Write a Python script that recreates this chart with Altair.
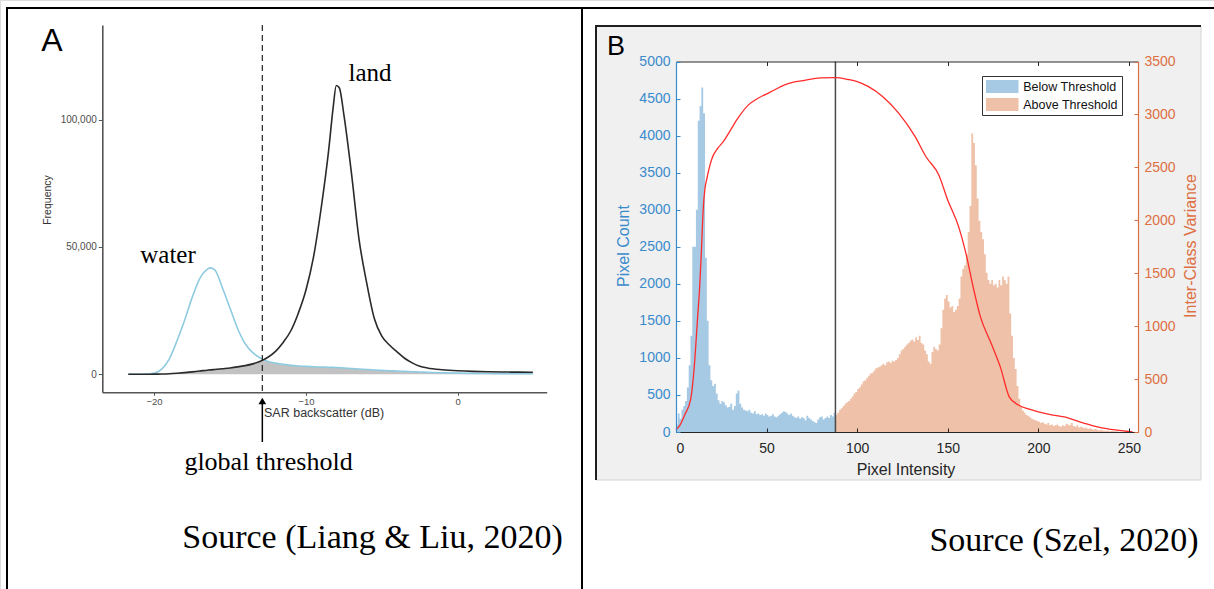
import altair as alt
import pandas as pd
import numpy as np

# ---------------- Panel A data (Liang & Liu, 2020) ----------------
sar_db = [-21.7, -21, -20.5, -20, -19.5, -19, -18.5, -18, -17.5, -17, -16.5, -16.3, -16,
          -15.5, -15, -14.5, -14, -13.5, -13, -12.5, -12, -11.5, -11, -10.5, -10, -9.5,
          -9, -8.5, -8.2, -8, -7.8, -7.5, -7, -6.5, -6, -5.5, -5, -4.5, -4, -3.5, -3,
          -2.5, -2, -1, 0, 1, 2, 3, 4, 4.95]
land_freq = [0, 0, 20, 50, 100, 200, 400, 650, 950, 1300, 1600, 1750, 1900, 2200, 2500,
             2900, 3400, 4100, 5100, 6700, 9000, 12500, 17000, 24000, 33000, 46000, 65000,
             88000, 105000, 113400, 112500, 102000, 79000, 53000, 36000, 22000, 15000,
             11500, 8800, 6300, 4500, 3200, 2500, 1800, 1400, 1150, 1000, 900, 850, 780]
water_freq = [0, 0, 100, 400, 2000, 6000, 13000, 21000, 30000, 37500, 41200, 41800, 41000,
              34000, 26000, 18000, 12000, 8500, 6400, 5000, 4400, 3900, 3500, 3250, 3100,
              2950, 2850, 2750, 2700, 2650, 2600, 2500, 2300, 2100, 1900, 1700, 1550, 1400,
              1300, 1150, 1000, 900, 800, 600, 450, 350, 300, 250, 200, 200]
global_threshold_db = -12.87
a_x_ticks = [-20, -10, 0]
a_y_ticks = [0, 50000, 100000]

# ---------------- Panel B data (Szel, 2020) ----------------
below_counts = [100, 250, 180, 300, 350, 420, 600, 900, 1300, 2500,
                2500, 3000, 4200, 4400, 4650, 4300, 2350, 1500, 900, 700,
                620, 650, 520, 430, 380, 420, 400, 360, 330, 340,
                380, 300, 350, 520, 560, 380, 330, 300, 290, 280,
                300, 260, 250, 280, 240, 250, 230, 240, 220, 250,
                230, 210, 220, 240, 210, 200, 220, 240, 260, 280,
                270, 250, 230, 250, 220, 200, 190, 210, 180, 200,
                190, 160, 220, 190, 170, 150, 130, 120, 170, 200,
                210, 170, 190, 210, 190, 230, 210, 260]
above_counts = [230, 260, 300, 320, 350, 380, 400, 420, 450, 480,
                520, 540, 580, 600, 640, 680, 700, 730, 760, 790,
                800, 830, 860, 870, 880, 900, 920, 900, 940, 950,
                930, 960, 950, 970, 1000, 1050, 1100, 1120, 1150, 1180,
                1200, 1230, 1250, 1220, 1280, 1240, 1300, 1200, 1180, 1100,
                1050, 950, 920, 1080, 1150, 1120, 1100, 1180, 1400, 1650,
                1800, 1850, 1760, 1680, 1700, 1620, 1650, 1700, 1800, 2100,
                2200, 2250, 2400, 2700, 3050, 4030, 3900, 3600, 3150, 2850,
                2700, 2600, 2400, 2150, 2050, 2000, 2050, 1980, 2000, 1950,
                2050, 1980, 2100, 2050, 2000, 2100, 1600, 1300, 1000, 850,
                620, 450, 350, 290, 260, 230, 220, 200, 180, 170,
                160, 150, 140, 120, 130, 110, 100, 120, 90, 100,
                80, 90, 100, 80, 70, 90, 80, 110, 100, 90,
                120, 80, 70, 90, 60, 70, 60, 50, 60, 40,
                50, 40, 30, 40, 30, 20, 30, 20, 20, 15,
                20, 10, 15, 10, 10, 10, 5, 5, 5, 5,
                5, 5, 0, 0, 0, 0, 0]
otsu_threshold = 88
var_intensity = [0, 2, 5, 8, 10, 12, 13, 14, 15, 16, 17, 18, 20, 23, 26, 30, 34, 40, 45, 52,
                 60, 70, 80, 88, 95, 100, 106, 114, 123, 132, 138, 145, 150, 156, 160, 164,
                 168, 174, 179, 184, 189, 195, 200, 208, 215, 222, 228, 232, 240, 248, 252]
var_values = [20, 60, 170, 300, 600, 1100, 1350, 1700, 2100, 2300, 2390, 2470, 2590, 2680,
              2740, 2850, 2960, 3090, 3150, 3210, 3280, 3320, 3345, 3348, 3330, 3310, 3265,
              3170, 3010, 2790, 2600, 2430, 2190, 1940, 1690, 1370, 1090, 835, 615, 330,
              255, 215, 190, 160, 140, 100, 70, 50, 25, 8, 0]
b_x_ticks = [0, 50, 100, 150, 200, 250]
b_y_ticks = list(range(0, 5001, 500))
b_v_ticks = list(range(0, 3501, 500))
groups = ["Below Threshold", "Above Threshold"]

W, H = 1214, 589
SANS = "Liberation Sans"
SERIF = "Liberation Serif"
BLUE_AX = "#3a8bcc"
ORANGE_AX = "#dd6f42"
DARK = "#262626"

one = pd.DataFrame({"k": [0]})

# ---------------- scales ----------------
a_x = alt.Scale(domain=[-23.41, 5.86], range=[102.3, 546.7], nice=False, zero=False)
a_y = alt.Scale(domain=[-7067, 137142], range=[392.3, 25], nice=False, zero=False)
b_x = alt.Scale(domain=[0, 255], range=[676, 1138], nice=False, zero=False)
b_y = alt.Scale(domain=[0, 5000], range=[432, 61.5], nice=False, zero=False)
b_v = alt.Scale(domain=[0, 3500], range=[432, 61.5], nice=False, zero=False)


def rule(x1, x2, y1, y2, color, width):
    return alt.Chart(one).mark_rule(color=color, strokeWidth=width).encode(
        x=alt.value(x1), x2=alt.value(x2), y=alt.value(y1), y2=alt.value(y2))


def text(t, x, y, size, font=SANS, color="black", angle=0, align="center", baseline="middle"):
    return alt.Chart(one).mark_text(text=t, font=font, fontSize=size, color=color,
                                    angle=angle, align=align, baseline=baseline).encode(
        x=alt.value(x), y=alt.value(y))


# ---------------- decorations: table & figure frame ----------------
deco = [
    rule(6, W, 8, 8, "black", 2),
    rule(7, 7, 7, H, "black", 2),
    rule(582, 582, 7, H, "black", 2),
    alt.Chart(one).mark_rect(fill="#f0f0f0").encode(
        x=alt.value(596), x2=alt.value(1201), y=alt.value(26), y2=alt.value(480)),
    rule(596, 1201, 480, 480, "#d4d4d4", 1),
    rule(1201, 1201, 26, 480, "#d4d4d4", 1),
    rule(595, 1201, 26, 26, "#1e1e1e", 2),
    rule(596, 596, 25, 480, "#1e1e1e", 2),
    alt.Chart(one).mark_rect(fill="white").encode(
        x=alt.value(676), x2=alt.value(1138), y=alt.value(61.5), y2=alt.value(432)),
]

# ---------------- Panel A ----------------
dfA = pd.DataFrame({"db": sar_db, "land": land_freq, "water": water_freq})
dfA["overlap"] = np.minimum(dfA["land"], dfA["water"])
thrA = pd.DataFrame({"t": [global_threshold_db]})

a_xaxis = alt.Axis(orient="bottom", offset=392.3 - H, values=a_x_ticks, format="d", title=None,
                   grid=False, domainColor="#555", domainWidth=1.6, tickColor="#555",
                   tickSize=3, labelFontSize=9.5, labelColor="#4d4d4d", labelPadding=1,
                   labelFont=SANS, zindex=1)
a_yaxis = alt.Axis(orient="left", offset=-102.3, values=a_y_ticks, format=",d", title=None,
                   grid=False, domainColor="#555", domainWidth=1.6, tickColor="#555",
                   tickSize=4, labelFontSize=10, labelColor="#4d4d4d", labelPadding=2,
                   labelFont=SANS, zindex=1)

overlapA = alt.Chart(dfA).mark_area(color="#c2c2c2", interpolate="monotone").encode(
    x=alt.X("db:Q", scale=a_x, axis=None),
    y=alt.Y("overlap:Q", scale=a_y, axis=None),
    y2=alt.datum(0))
waterA = alt.Chart(dfA).mark_line(color="#8fcbe0", strokeWidth=1.6, interpolate="monotone").encode(
    x=alt.X("db:Q", scale=a_x, axis=None),
    y=alt.Y("water:Q", scale=a_y, axis=None))
landA = alt.Chart(dfA).mark_line(color="#2a2a2a", strokeWidth=1.6, interpolate="monotone").encode(
    x=alt.X("db:Q", scale=a_x, axis=a_xaxis),
    y=alt.Y("land:Q", scale=a_y, axis=a_yaxis))
dashA = alt.Chart(thrA).mark_rule(color="#222", strokeWidth=1.2, strokeDash=[6, 4]).encode(
    x=alt.X("t:Q", scale=a_x, axis=None), y=alt.value(25), y2=alt.value(392))
arrowA = alt.Chart(thrA).mark_rule(color="black", strokeWidth=1.5).encode(
    x=alt.X("t:Q", scale=a_x, axis=None), y=alt.value(403), y2=alt.value(442))
headA = alt.Chart(thrA).mark_point(shape="triangle-up", filled=True, size=60, color="black",
                                    opacity=1).encode(
    x=alt.X("t:Q", scale=a_x, axis=None), y=alt.value(401))

panelA = [overlapA, waterA, landA, dashA, arrowA, headA]

# ---------------- Panel B ----------------
rows = []
for i, c in enumerate(below_counts):
    rows.append({"intensity": i, "count": c, "group": groups[0]})
rows.append({"intensity": otsu_threshold, "count": below_counts[-1], "group": groups[0]})
for j, c in enumerate(above_counts):
    rows.append({"intensity": otsu_threshold + j, "count": c, "group": groups[1]})
rows.append({"intensity": otsu_threshold + len(above_counts), "count": above_counts[-1],
             "group": groups[1]})
histB = pd.DataFrame(rows)
varB = pd.DataFrame({"intensity": var_intensity, "variance": var_values})
thrB = pd.DataFrame({"t": [otsu_threshold]})

b_xaxis = alt.Axis(orient="bottom", offset=432 - H, values=b_x_ticks, format="d", title=None,
                   grid=False, ticks=False, labelPadding=9, labelFontSize=14, labelColor=DARK,
                   labelFont=SANS, domainColor=DARK, domainWidth=1.2, zindex=2)
b_yaxis = alt.Axis(orient="left", offset=-676, values=b_y_ticks, format="d", title=None,
                   grid=False, ticks=False, labelPadding=6, labelFontSize=14,
                   labelColor=BLUE_AX, labelFont=SANS, domainColor=BLUE_AX, domainWidth=1.2,
                   zindex=2)
b_xticks_in = alt.Axis(orient="top", offset=-432, values=b_x_ticks, title=None, grid=False,
                       labels=False, domain=False, tickSize=4, tickColor=DARK, zindex=2)
b_yticks_in = alt.Axis(orient="right", offset=676 - W, values=b_y_ticks, title=None, grid=False,
                       labels=False, domain=False, tickSize=4, tickColor=BLUE_AX, zindex=2)
b_top = alt.Axis(orient="bottom", offset=61.5 - H, values=b_x_ticks, title=None, grid=False,
                 labels=False, tickSize=4, tickColor=DARK, domainColor=DARK, domainWidth=1.2,
                 zindex=2)
b_vaxis = alt.Axis(orient="right", offset=1138 - W, values=b_v_ticks, format="d", title=None,
                   grid=False, ticks=False, labelPadding=6, labelFontSize=14,
                   labelColor=ORANGE_AX, labelFont=SANS, domainColor=ORANGE_AX,
                   domainWidth=1.2, zindex=2)
b_vticks_in = alt.Axis(orient="left", offset=-1138, values=b_v_ticks, title=None, grid=False,
                       labels=False, domain=False, tickSize=4, tickColor=ORANGE_AX, zindex=2)

legendB = alt.Legend(title=None, orient="none", legendX=982, legendY=76, direction="vertical",
                     fillColor="white", strokeColor="#333", padding=4,
                     symbolType="M-2.5,-1H2.5V1H-2.5Z", symbolSize=169, symbolStrokeWidth=0,
                     symbolOffset=9.75, symbolOpacity=1, labelFont=SANS, labelFontSize=12.5,
                     labelColor="#111", labelOffset=14.5, rowPadding=5, zindex=3)

histLayer = alt.Chart(histB).mark_area(interpolate="step-after", opacity=1).encode(
    x=alt.X("intensity:Q", scale=b_x, axis=b_xaxis),
    y=alt.Y("count:Q", scale=b_y, axis=b_yaxis, stack=None),
    color=alt.Color("group:N", scale=alt.Scale(domain=groups, range=["#a6c9e4", "#f0c1a9"]),
                    legend=legendB, sort=groups),
    detail="group:N")
ticksLayer1 = alt.Chart(histB).mark_point(opacity=0).encode(
    x=alt.X("intensity:Q", scale=b_x, axis=b_xticks_in),
    y=alt.Y("count:Q", scale=b_y, axis=b_yticks_in))
thrLineB = alt.Chart(thrB).mark_rule(color="#4a4a4a", strokeWidth=1.5).encode(
    x=alt.X("t:Q", scale=b_x, axis=None), y=alt.value(61.5), y2=alt.value(432))
varLine = alt.Chart(varB).mark_line(color="#ff2b2b", strokeWidth=1.3, interpolate="monotone").encode(
    x=alt.X("intensity:Q", scale=b_x, axis=b_top),
    y=alt.Y("variance:Q", scale=b_v, axis=b_vaxis))
ticksLayer2 = alt.Chart(varB).mark_point(opacity=0).encode(
    x=alt.X("intensity:Q", scale=b_x, axis=None),
    y=alt.Y("variance:Q", scale=b_v, axis=b_vticks_in))

panelB = [histLayer, ticksLayer1, thrLineB, varLine, ticksLayer2]

# ---------------- texts ----------------
texts = [
    text("A", 52, 41, 32),
    text("land", 370, 81, 25, font=SERIF, baseline="alphabetic"),
    text("water", 168, 263, 25, font=SERIF, baseline="alphabetic"),
    text("global threshold", 268.5, 470, 26, font=SERIF, baseline="alphabetic"),
    text("Frequency", 48, 200, 10.5, color="#333", angle=270),
    text("SAR backscatter (dB)", 264, 413, 12.5, color="#333", align="left"),
    text("Source (Liang & Liu, 2020)", 372.5, 548, 34, font=SERIF, baseline="alphabetic"),
    text("B", 616, 47, 27),
    text("Pixel Count", 624, 246, 16, color=BLUE_AX, angle=270),
    text("Inter-Class Variance", 1191, 246, 16, color=ORANGE_AX, angle=270),
    text("Pixel Intensity", 906, 470, 16, color=DARK),
    text("Source (Szel, 2020)", 1064, 551, 34, font=SERIF, baseline="alphabetic"),
]

chart = alt.layer(*deco, *panelA, *panelB, *texts).resolve_scale(
    x="independent", y="independent", color="independent"
).resolve_axis(x="independent", y="independent").properties(
    width=W, height=H, padding=0, autosize=alt.AutoSizeParams(type="none"),
    background="white"
).configure_view(stroke=None).configure(font=SANS)

chart.save("out.html", embed_options={"renderer": "svg", "actions": False})
